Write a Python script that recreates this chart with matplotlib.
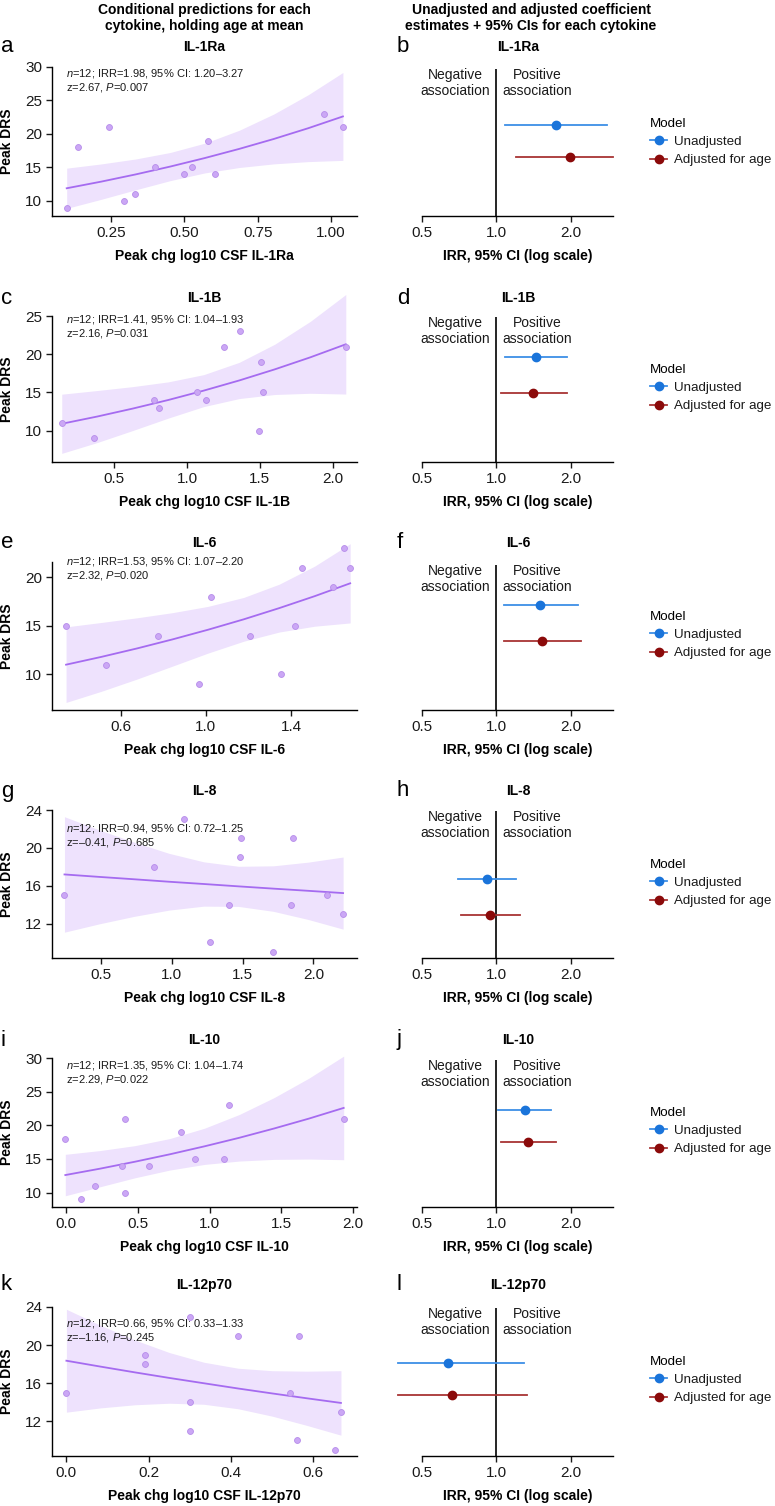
import matplotlib
matplotlib.use("Agg")
import matplotlib.pyplot as plt
from matplotlib.lines import Line2D

plt.rcParams['font.family'] = ['Liberation Sans', 'DejaVu Sans']
plt.rcParams['mathtext.fontset'] = 'custom'
plt.rcParams['mathtext.rm'] = 'Liberation Sans'
plt.rcParams['mathtext.it'] = 'Liberation Sans:italic'

# --- data ---
cytokines = ["IL-1Ra", "IL-1B", "IL-6", "IL-8", "IL-10", "IL-12p70"]

drs_x = [
    [0.10, 0.14, 0.244, 0.295, 0.334, 0.399, 0.50, 0.526, 0.582, 0.605, 0.974, 1.039],
    [0.14, 0.362, 0.77, 0.807, 1.066, 1.131, 1.252, 1.365, 1.491, 1.509, 1.521, 2.094],
    [0.344, 0.531, 0.774, 0.97, 1.025, 1.209, 1.355, 1.419, 1.453, 1.596, 1.648, 1.678],
    [0.245, 0.874, 1.085, 1.273, 1.403, 1.481, 1.49, 1.717, 1.842, 1.856, 2.095, 2.209],
    [-0.007, 0.105, 0.199, 0.389, 0.407, 0.41, 0.578, 0.803, 0.899, 1.098, 1.138, 1.937],
    [0.0, 0.191, 0.191, 0.301, 0.301, 0.301, 0.418, 0.543, 0.56, 0.564, 0.652, 0.667],
]
drs_y = [
    [9, 18, 21, 10, 11, 15, 14, 15, 19, 14, 23, 21],
    [11, 9, 14, 13, 15, 14, 21, 23, 10, 19, 15, 21],
    [15, 11, 14, 9, 18, 14, 10, 15, 21, 19, 23, 21],
    [15, 18, 23, 10, 14, 19, 21, 9, 14, 21, 15, 13],
    [18, 9, 11, 14, 21, 10, 14, 19, 15, 15, 23, 21],
    [15, 19, 18, 23, 14, 11, 21, 15, 10, 21, 9, 13],
]

# conditional predictions (fit + 95% CI) read at several x positions
pred_x = [
    [0.10, 0.2175, 0.335, 0.4525, 0.57, 0.6875, 0.805, 0.9225, 1.04],
    [0.14, 0.384, 0.6275, 0.871, 1.115, 1.359, 1.6025, 1.846, 2.09],
    [0.344, 0.511, 0.678, 0.844, 1.011, 1.178, 1.345, 1.511, 1.678],
    [0.245, 0.4905, 0.736, 0.9815, 1.227, 1.4725, 1.718, 1.9635, 2.209],
    [-0.007, 0.236, 0.479, 0.722, 0.965, 1.208, 1.451, 1.694, 1.937],
    [0.0, 0.083, 0.167, 0.250, 0.334, 0.417, 0.500, 0.584, 0.667],
]
pred_fit = [
    [11.9, 12.89, 13.97, 15.14, 16.41, 17.78, 19.26, 20.87, 22.62],
    [10.9, 11.85, 12.89, 14.01, 15.24, 16.57, 18.02, 19.59, 21.30],
    [11.0, 11.81, 12.68, 13.61, 14.61, 15.68, 16.84, 18.07, 19.40],
    [17.19, 16.93, 16.68, 16.42, 16.18, 15.93, 15.69, 15.46, 15.22],
    [12.6, 13.55, 14.58, 15.68, 16.87, 18.14, 19.52, 20.99, 22.58],
    [18.35, 17.73, 17.12, 16.54, 15.98, 15.43, 14.91, 14.40, 13.91],
]
pred_lo = [
    [8.90, 10.25, 11.67, 13.04, 14.19, 15.00, 15.54, 15.88, 16.06],
    [7.03, 8.45, 10.02, 11.64, 13.15, 14.20, 14.73, 14.89, 14.79],
    [7.10, 8.26, 9.52, 10.85, 12.20, 13.42, 14.37, 14.97, 15.31],
    [11.09, 11.97, 12.76, 13.42, 13.84, 13.81, 13.29, 12.43, 11.41],
    [9.52, 10.86, 12.19, 13.34, 14.18, 14.68, 14.93, 14.98, 14.88],
    [12.94, 13.39, 13.72, 13.88, 13.77, 13.30, 12.52, 11.55, 10.52],
]
pred_hi = [
    [14.90, 15.53, 16.27, 17.24, 18.63, 20.56, 22.98, 25.87, 29.18],
    [14.77, 15.25, 15.76, 16.38, 17.33, 18.94, 21.31, 24.29, 27.81],
    [14.90, 15.36, 15.84, 16.37, 17.02, 17.94, 19.31, 21.17, 23.49],
    [23.29, 21.89, 20.60, 19.42, 18.52, 18.05, 18.10, 18.49, 19.03],
    [15.68, 16.24, 16.97, 18.02, 19.56, 21.60, 24.11, 27.00, 30.28],
    [23.76, 22.07, 20.52, 19.21, 18.19, 17.56, 17.30, 17.25, 17.30],
]

# model statistics (adjusted for age)
stat_irr = ["1.98", "1.41", "1.53", "0.94", "1.35", "0.66"]
stat_ci = ["1.20\u20133.27", "1.04\u20131.93", "1.07\u20132.20", "0.72\u20131.25", "1.04\u20131.74", "0.33\u20131.33"]
stat_z = ["2.67", "2.16", "2.32", "\u20130.41", "2.29", "\u20131.16"]
stat_p = ["0.007", "0.031", "0.020", "0.685", "0.022", "0.245"]

# forest plot: IRR and 95% CI as drawn
irr_unadj = [1.75, 1.45, 1.50, 0.92, 1.31, 0.64]
lo_unadj = [1.08, 1.08, 1.07, 0.70, 1.02, 0.40]
hi_unadj = [2.81, 1.94, 2.15, 1.20, 1.67, 1.29]
irr_adj = [1.98, 1.41, 1.53, 0.94, 1.35, 0.66]
lo_adj = [1.20, 1.04, 1.07, 0.72, 1.04, 0.40]
hi_adj = [2.97, 1.93, 2.20, 1.25, 1.74, 1.33]

# --- layout (pixels) ---
W, H = 775, 1506
left_letters = ["a", "c", "e", "g", "i", "k"]
right_letters = ["b", "d", "f", "h", "j", "l"]
title_y = [47, 298, 543, 791, 1040, 1285]
sc_top = [67, 316, 562, 810, 1058, 1307]
sc_bot = [216, 462, 710, 958, 1207, 1456]
sc_xlim = [(0.05, 1.088), (0.073, 2.167), (0.278, 1.71), (0.157, 2.307), (-0.10, 2.03), (-0.035, 0.706)]
sc_ylim = [(7.76, 30), (5.9, 25), (6.32, 21.6), (8.36, 24), (7.85, 30), (8.33, 24)]
sc_yticks = [[10, 15, 20, 25, 30], [10, 15, 20, 25], [10, 15, 20], [12, 16, 20, 24],
             [10, 15, 20, 25, 30], [12, 16, 20, 24]]
sc_xticks = [[0.25, 0.50, 0.75, 1.00], [0.5, 1.0, 1.5, 2.0], [0.6, 1.0, 1.4],
             [0.5, 1.0, 1.5, 2.0], [0.0, 0.5, 1.0, 1.5, 2.0], [0.0, 0.2, 0.4, 0.6]]
sc_xfmt = ["%.2f", "%.1f", "%.1f", "%.1f", "%.1f", "%.1f"]
stat_y = [73, 319, 562, 829, 1066, 1323]
fp_top = [69, 317, 565, 811, 1060, 1308]
row_unadj = [125, 357, 605, 879, 1110, 1363]
row_adj = [157, 393, 641, 915, 1142, 1395]
legend_y = [142, 388, 635, 883, 1131, 1380]

purple_line = "#a56bf0"
purple_band = "#eee2fd"
pt_face = "#cba7f5"
pt_edge = "#b68cea"
blue_line, blue_pt = "#3d8fe6", "#1a74da"
red_line, red_pt = "#a83434", "#8b0a0a"
txt = "#1a1a1a"


def px_axes(l, t, r, b):
    return fig.add_axes([l / W, 1 - b / H, (r - l) / W, (b - t) / H])


def style(ax):
    for s in ["top", "right"]:
        ax.spines[s].set_visible(False)
    for s in ["left", "bottom"]:
        ax.spines[s].set_linewidth(1.0)
    ax.tick_params(length=4, width=1.0, labelsize=11, pad=3, colors=txt)


fig = plt.figure(figsize=(W / 100, H / 100), dpi=100)

fig.text(204 / W, 1 - 18 / H, "Conditional predictions for each\ncytokine, holding age at mean",
         ha="center", va="center", fontsize=10, fontweight="bold", linespacing=1.2)
fig.text(531 / W, 1 - 18 / H, "Unadjusted and adjusted coefficient\nestimates + 95% CIs for each cytokine",
         ha="center", va="center", fontsize=10, fontweight="bold", linespacing=1.2)

for i, name in enumerate(cytokines):
    # ---- left: conditional predictions ----
    ax = px_axes(52, sc_top[i], 357, sc_bot[i])
    style(ax)
    ax.fill_between(pred_x[i], pred_lo[i], pred_hi[i], color=purple_band, lw=0, clip_on=False, zorder=1)
    ax.plot(pred_x[i], pred_fit[i], color=purple_line, lw=1.3, clip_on=False, zorder=2)
    ax.scatter(drs_x[i], drs_y[i], s=18, color=pt_face, edgecolors=pt_edge, linewidths=0.6,
               clip_on=False, zorder=3)
    ax.set_xlim(*sc_xlim[i])
    ax.set_ylim(*sc_ylim[i])
    ax.set_yticks(sc_yticks[i])
    ax.set_xticks(sc_xticks[i])
    ax.set_xticklabels([sc_xfmt[i] % v for v in sc_xticks[i]])
    ax.set_xlabel("Peak chg log10 CSF " + name, fontsize=10, fontweight="bold", labelpad=7)
    ax.set_ylabel("Peak DRS", fontsize=10, fontweight="bold")
    ax.yaxis.set_label_coords((14 - 52) / 305, 0.5)
    fig.text(204 / W, 1 - title_y[i] / H, name, ha="center", va="center", fontsize=10, fontweight="bold")
    fig.text(1 / W, 1 - title_y[i] / H, left_letters[i], ha="left", va="center", fontsize=16)
    fig.text(66 / W, 1 - stat_y[i] / H,
             r"$n$=12; IRR=" + stat_irr[i] + ", 95% CI: " + stat_ci[i],
             ha="left", va="center", fontsize=8, color=txt)
    fig.text(66 / W, 1 - (stat_y[i] + 14) / H, "z=" + stat_z[i] + r", $P$=" + stat_p[i],
             ha="left", va="center", fontsize=8, color=txt)

    # ---- right: forest plot ----
    fx = px_axes(422, fp_top[i], 613, sc_bot[i])
    style(fx)
    fx.set_xscale("log")
    fx.set_xlim(0.5, 2.97)
    fx.set_ylim(sc_bot[i], fp_top[i])
    fx.spines["left"].set_visible(False)
    fx.set_yticks([])
    fx.set_xticks([0.5, 1.0, 2.0])
    fx.set_xticklabels(["0.5", "1.0", "2.0"])
    fx.minorticks_off()
    fx.axvline(1.0, color="black", lw=1.2, zorder=1)
    fx.plot([lo_unadj[i], hi_unadj[i]], [row_unadj[i]] * 2, color=blue_line, lw=1.3, clip_on=False)
    fx.plot([irr_unadj[i]], [row_unadj[i]], "o", color=blue_pt, ms=6, clip_on=False, zorder=3)
    fx.plot([lo_adj[i], hi_adj[i]], [row_adj[i]] * 2, color=red_line, lw=1.3, clip_on=False)
    fx.plot([irr_adj[i]], [row_adj[i]], "o", color=red_pt, ms=6, clip_on=False, zorder=3)
    fx.text(0.683, fp_top[i] - 1, "Negative\nassociation", ha="center", va="top", fontsize=10,
            color=txt, linespacing=1.15)
    fx.text(1.46, fp_top[i] - 1, "Positive\nassociation", ha="center", va="top", fontsize=10,
            color=txt, linespacing=1.15)
    fx.set_xlabel("IRR, 95% CI (log scale)", fontsize=10, fontweight="bold", labelpad=7)
    fig.text(518 / W, 1 - title_y[i] / H, name, ha="center", va="center", fontsize=10, fontweight="bold")
    fig.text(397 / W, 1 - title_y[i] / H, right_letters[i], ha="left", va="center", fontsize=16)

    handles = [Line2D([], [], color=blue_line, lw=1.3, marker="o", ms=6, mfc=blue_pt, mec=blue_pt),
               Line2D([], [], color=red_line, lw=1.3, marker="o", ms=6, mfc=red_pt, mec=red_pt)]
    leg = fig.legend(handles, ["Unadjusted", "Adjusted for age"], title="Model",
                     loc="center left", bbox_to_anchor=(650 / W, 1 - legend_y[i] / H),
                     frameon=False, fontsize=9.6, title_fontsize=9.6, borderpad=0,
                     borderaxespad=0, handlelength=1.3, handletextpad=0.5, labelspacing=0.45)
    leg._legend_box.align = "left"
    for t in leg.get_texts():
        t.set_color(txt)

fig.savefig("out.png", dpi=100)
